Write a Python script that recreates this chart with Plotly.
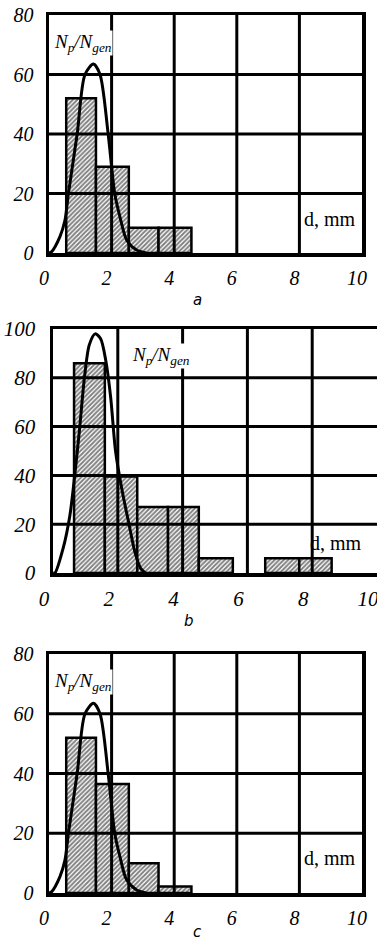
import plotly.graph_objects as go

# ---------------- data ----------------
x_ticks = [0, 2, 4, 6, 8, 10]
y_ticks_80 = [0, 20, 40, 60, 80]
y_ticks_100 = [0, 20, 40, 60, 80, 100]

# panel a
bin_left_a = [0.55, 1.5, 2.55, 3.5]
bin_right_a = [1.5, 2.55, 3.5, 4.55]
share_a = [52, 29, 8.5, 8.5]
curve_x_a = [0, 0.08, 0.35, 0.51, 0.62, 0.9, 1.15, 1.42, 1.63, 1.89, 2.1, 2.27, 2.48, 2.8, 3.1]
curve_y_a = [0, 0.4, 5.5, 11, 20, 40, 60, 63.5, 60, 40, 20, 12, 4.4, 1, 0]

# panel b
bin_left_b = [0.65, 1.6, 2.6, 3.55, 4.5, 6.55, 7.6]
bin_right_b = [1.6, 2.6, 3.55, 4.5, 5.55, 7.6, 8.6]
share_b = [86, 39.5, 27, 27, 6, 6, 6]
curve_x_b = [0, 0.06, 0.31, 0.52, 0.67, 0.82, 0.97, 1.12, 1.3, 1.47, 1.63, 1.78, 1.93, 2.13, 2.33, 2.53, 2.7, 2.85]
curve_y_b = [0, 0, 10, 23.5, 40, 59, 80, 93.5, 98, 96, 87, 72, 50, 34, 21, 8.5, 2, 0]

# panel c
bin_left_c = [0.55, 1.5, 2.55, 3.5]
bin_right_c = [1.5, 2.55, 3.5, 4.55]
share_c = [52, 36.5, 10, 2.2]
curve_x_c = [0, 0.08, 0.35, 0.51, 0.62, 0.9, 1.15, 1.42, 1.63, 1.89, 2.1, 2.27, 2.48, 2.8, 3.1]
curve_y_c = [0, 0.4, 5.5, 11, 20, 40, 60, 63.5, 60, 40, 20, 12, 4.4, 1, 0]

y_label = "<i>N<sub>p</sub>/N<sub>gen</sub></i>"
x_label = "d, mm"
panel_names = ["a", "b", "c"]

W, H = 377, 941
SERIF = "Liberation Serif"


def px_x(v):
    return v / W


def px_y(v):
    return 1 - v / H


fig = go.Figure()

panels = [
    dict(left=bin_left_a, right=bin_right_a, h=share_a, cx=curve_x_a, cy=curve_y_a,
         yt=y_ticks_80, yr=[0, 80],
         xd=[px_x(49), px_x(362)], yd=[px_y(253), px_y(15)], right_border=True,
         nl=(0.13, 70.6), dl=(9.87, 11.5), tag=(198, 300), tsize=20, xshift=-5, ystand=8),
    dict(left=bin_left_b, right=bin_right_b, h=share_b, cx=curve_x_b, cy=curve_y_b,
         yt=y_ticks_100, yr=[0, 100],
         xd=[px_x(53), 1.0], yd=[px_y(573), px_y(329)], right_border=False,
         nl=(2.42, 89), dl=(9.6, 12.5), tag=(189, 621), tsize=21, xshift=-9, ystand=10),
    dict(left=bin_left_c, right=bin_right_c, h=share_c, cx=curve_x_c, cy=curve_y_c,
         yt=y_ticks_80, yr=[0, 80],
         xd=[px_x(49), px_x(362)], yd=[px_y(893), px_y(654)], right_border=True,
         nl=(0.13, 70.6), dl=(9.87, 11.7), tag=(197, 932), tsize=20, xshift=-5, ystand=8),
]

shapes = []
annotations = []
layout_axes = {}

for i, p in enumerate(panels):
    n = "" if i == 0 else str(i + 1)
    xa, ya = "x" + n, "y" + n
    centers = [(l + r) / 2 for l, r in zip(p["left"], p["right"])]
    widths = [r - l for l, r in zip(p["left"], p["right"])]
    fig.add_trace(go.Bar(
        x=centers, y=p["h"], width=widths, xaxis=xa, yaxis=ya,
        marker=dict(color="white", line=dict(color="black", width=2.5),
                    pattern=dict(shape="/", fgcolor="black", bgcolor="white",
                                 size=3.2, solidity=0.6, fillmode="overlay")),
        showlegend=False, hoverinfo="skip"))
    fig.add_trace(go.Scatter(
        x=p["cx"], y=p["cy"], xaxis=xa, yaxis=ya, mode="lines",
        line=dict(color="black", width=3, shape="spline", smoothing=0.8),
        showlegend=False, hoverinfo="skip"))

    # grid lines drawn above the bars
    for xv in x_ticks:
        if 0 < xv < 10:
            shapes.append(dict(type="line", layer="above", xref=xa, yref=ya + " domain",
                               x0=xv, x1=xv, y0=0, y1=1, line=dict(color="black", width=3)))
    for yv in p["yt"]:
        if p["yr"][0] < yv < p["yr"][1]:
            shapes.append(dict(type="line", layer="above", xref=xa + " domain", yref=ya,
                               x0=0, x1=1, y0=yv, y1=yv, line=dict(color="black", width=3)))

    tickfont = dict(family=SERIF, size=p["tsize"], color="black")
    layout_axes["xaxis" + n] = dict(
        domain=p["xd"], range=[0, 10], anchor=ya, tickvals=x_ticks,
        ticktext=["<i>%d</i>" % v for v in x_ticks], automargin=False,
        ticks="", showgrid=False, zeroline=False, showline=True, linecolor="black",
        linewidth=3.5, mirror=True, tickfont=tickfont, ticklabelstandoff=4,
        ticklabelshift=p["xshift"], ticklabeloverflow="allow", fixedrange=True)
    layout_axes["yaxis" + n] = dict(
        domain=p["yd"], range=p["yr"], anchor=xa, tickvals=p["yt"],
        ticktext=["<i>%d</i>" % v for v in p["yt"]], automargin=False,
        ticks="", showgrid=False, zeroline=False, showline=True, linecolor="black",
        linewidth=3.5, mirror=p["right_border"], tickfont=tickfont,
        ticklabelstandoff=p["ystand"], ticklabeloverflow="allow", fixedrange=True)

    annotations.append(dict(text=y_label, xref=xa, yref=ya, x=p["nl"][0], y=p["nl"][1],
                            xanchor="left", yanchor="middle", showarrow=False,
                            bgcolor="white", borderpad=0,
                            font=dict(family=SERIF, size=19, color="black")))
    annotations.append(dict(text=x_label, xref=xa, yref=ya, x=p["dl"][0], y=p["dl"][1],
                            xanchor="right", yanchor="middle", showarrow=False,
                            font=dict(family=SERIF, size=20, color="black")))
    annotations.append(dict(text="<i>" + panel_names[i] + "</i>", xref="paper", yref="paper",
                            x=px_x(p["tag"][0]), y=px_y(p["tag"][1]),
                            xanchor="center", yanchor="middle", showarrow=False,
                            font=dict(family="DejaVu Sans", size=15, color="black")))

fig.update_layout(
    width=W, height=H, margin=dict(l=0, r=0, t=0, b=0),
    font=dict(family=SERIF, color="black"),
    paper_bgcolor="white", plot_bgcolor="white",
    shapes=shapes, annotations=annotations, barmode="overlay",
    **layout_axes)

fig.write_html("out.html",
               config={"displayModeBar": False, "staticPlot": True},
               post_script="document.body.style.margin='0';document.body.style.overflow='hidden';")
